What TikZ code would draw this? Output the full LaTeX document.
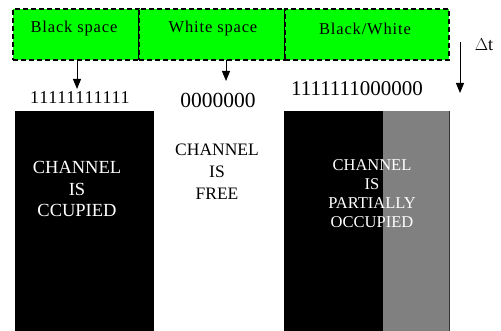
\documentclass[tikz,border=0pt]{standalone}
\usepackage{fontspec}
\setmainfont{Liberation Serif}
\usetikzlibrary{arrows.meta}
\begin{document}
\begin{tikzpicture}[x=1pt,y=-1pt,
  greenbox/.style={draw=black, fill=green, dash pattern=on 5pt off 3pt, line width=1.2pt, minimum height=51pt, anchor=north west, inner sep=0pt, outer sep=0pt},
  toplabel/.style={font=\fontsize{16.5}{19}\selectfont\addfontfeature{LetterSpace=5}, inner sep=0pt},
  bits/.style={inner sep=0pt, anchor=center},
  arr/.style={line width=1pt, -{Triangle[length=10pt,width=8pt]}},
  blockbox/.style={draw=none, minimum height=220pt, anchor=north west, inner sep=0pt, outer sep=0pt},
  chantext/.style={text=white, align=center, inner sep=0pt},
]
\useasboundingbox (0,0) rectangle (501,331);
% green header boxes
\node[greenbox, minimum width=126pt] (b1) at (13,9) {};
\node[greenbox, minimum width=146pt] (b2) at (139,9) {};
\node[greenbox, minimum width=164pt] (b3) at (285,9) {};
\node[toplabel] (l1) at (74,29) {Black space};
\node[toplabel] (l2) at (213,29) {White space};
\node[toplabel] (l3) at (365,29) {Black/White};
% bit strings
\node[bits, font=\fontsize{18}{20}\selectfont\addfontfeature{LetterSpace=4}] (ones) at (80,98) {11111111111};
\node[bits, font=\fontsize{21.5}{24}\selectfont] (zeros) at (218,100) {0000000};
\node[bits, font=\fontsize{21}{24}\selectfont] (mixed) at (357,89) {1111111000000};
% arrows
\coordinate (a1e) at (77,89);
\coordinate (a2e) at (226,81);
\draw[arr] (b1.south -| a1e) -- (a1e);
\draw[arr] (b2.south -| a2e) -- (a2e);
% delta t
\coordinate (dts) at (460,42);
\coordinate (dte) at (460,93);
\draw[arr] (dts) -- (dte);
\node[inner sep=0pt, font=\fontsize{18}{20}\selectfont] (dt) at (484,45) {$\Delta$t};
% blocks
\node[blockbox, fill=black, minimum width=139pt] (k1) at (15,111) {};
\node[blockbox, fill=black, minimum width=99pt] (k3a) at (284,111) {};
\node[blockbox, fill=gray, minimum width=66pt] (k3b) at (383,111) {};
\draw[line width=0.8pt, black!80] (k3b.north east) -- (k3b.south east);
% texts
\node[chantext, font=\fontsize{18.5}{21.5}\selectfont] (t1) at (77,189) {CHANNEL\\IS\\CCUPIED};
\node[chantext, text=black, font=\fontsize{17.5}{22}\selectfont] (t2) at (217,172) {CHANNEL\\IS\\FREE};
\node[chantext, font=\fontsize{16.5}{19}\selectfont] (t3) at (372,194) {CHANNEL\\IS\\PARTIALLY\\OCCUPIED};
\end{tikzpicture}
\end{document}
